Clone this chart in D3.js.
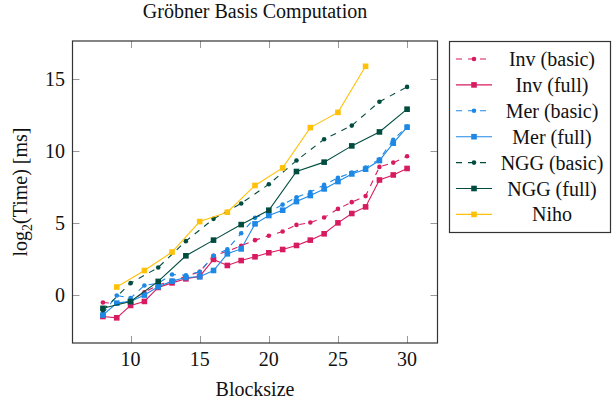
<!DOCTYPE html>
<html>
<head>
<meta charset="utf-8">
<script src="https://cdn.jsdelivr.net/npm/d3@7"></script>
<style>
  body { margin: 0; background: #fff; }
  svg text { font-family: "Liberation Serif", "DejaVu Serif", serif; fill: #111; }
</style>
</head>
<body>
<div class="chart"></div>
<script>
// blocksizes
var sizesAll = [8, 9, 10, 11, 12, 13, 14, 15, 16, 17, 18, 19, 20, 21, 22, 23, 24, 25, 26, 27, 28, 29, 30];
var sizesEven = [8, 10, 12, 14, 16, 18, 20, 22, 24, 26, 28, 30];
var sizesOdd = [9, 11, 13, 15, 17, 19, 21, 23, 25, 27];

// log2(time) values
var invBasic = [-0.51, -0.6, -0.4, 0.2, 0.7, 1.0, 1.3, 1.62, 2.73, 3.05, 3.42, 3.82, 4.12, 4.42, 4.88, 5.04, 5.39, 5.99, 6.46, 6.88, 8.91, 9.21, 9.65];
var invFull = [-1.49, -1.58, -0.72, -0.44, 0.53, 0.85, 1.13, 1.3, 2.48, 2.06, 2.4, 2.66, 2.94, 3.17, 3.45, 3.82, 4.26, 5.02, 5.67, 6.13, 8.0, 8.35, 8.8];
var merBasic = [-1.3, -0.03, -0.21, 0.67, 0.83, 1.43, 1.38, 1.62, 2.73, 3.19, 4.3, 5.37, 5.78, 6.29, 6.8, 7.17, 7.66, 8.15, 8.51, 8.86, 9.44, 10.8, 11.71];
var merFull = [-1.39, -0.56, -0.44, 0.0, 0.58, 0.97, 1.22, 1.27, 1.71, 2.87, 3.21, 4.95, 5.53, 5.9, 6.5, 6.92, 7.38, 7.89, 8.42, 8.75, 9.35, 10.56, 11.67];
var nggBasic = [-1.05, 0.83, 1.92, 3.75, 5.3, 6.37, 7.7, 9.35, 10.83, 11.78, 13.44, 14.47];
var nggFull = [-0.92, -0.45, 0.95, 2.73, 3.82, 4.9, 5.9, 8.59, 9.24, 10.37, 11.34, 12.92];
var niho = [0.56, 1.71, 2.99, 5.11, 5.76, 7.62, 8.84, 11.64, 12.7, 15.9];

var xTicks = [10, 15, 20, 25, 30];
var yTicks = [0, 5, 10, 15];

(function () {
    "use strict";

    var series = [
        { name: "Inv (basic)", x: sizesAll, y: invBasic, color: "#d81b60", dashed: true, mark: "circle" },
        { name: "Inv (full)", x: sizesAll, y: invFull, color: "#d81b60", dashed: false, mark: "square" },
        { name: "Mer (basic)", x: sizesAll, y: merBasic, color: "#1e88e5", dashed: true, mark: "circle" },
        { name: "Mer (full)", x: sizesAll, y: merFull, color: "#1e88e5", dashed: false, mark: "square" },
        { name: "NGG (basic)", x: sizesEven, y: nggBasic, color: "#004d40", dashed: true, mark: "circle" },
        { name: "NGG (full)", x: sizesEven, y: nggFull, color: "#004d40", dashed: false, mark: "square" },
        { name: "Niho", x: sizesOdd, y: niho, color: "#ffc107", dashed: false, mark: "square" }
    ];

    var W = 613, H = 407;
    // plot box
    var left = 72.5, mt = 41, w = 365, h = 302;

    var svg = d3.select(".chart")
                .append("svg")
                .attr("width", W)
                .attr("height", H);

    var x = d3.scaleLinear().domain([5.8, 32.2]).range([left, left + w]);
    var y = d3.scaleLinear().domain([-3.33, 17.66]).range([mt + h, mt]);

    // ticks (inside, mirrored)
    var tickLen = 7;
    var grid = svg.append("g").attr("stroke", "#999").attr("stroke-width", 1);
    xTicks.forEach(function (t) {
        var px = Math.round(x(t)) + 0.5;
        grid.append("line").attr("x1", px).attr("x2", px).attr("y1", mt + h).attr("y2", mt + h - tickLen);
        grid.append("line").attr("x1", px).attr("x2", px).attr("y1", mt).attr("y2", mt + tickLen);
    });
    yTicks.forEach(function (t) {
        var py = Math.round(y(t)) + 0.5;
        grid.append("line").attr("x1", left).attr("x2", left + tickLen).attr("y1", py).attr("y2", py);
        grid.append("line").attr("x1", left + w).attr("x2", left + w - tickLen).attr("y1", py).attr("y2", py);
    });

    // tick labels
    svg.selectAll(".xl")
        .data(xTicks)
        .enter()
        .append("text")
        .attr("x", function (d) { return x(d); })
        .attr("y", 366)
        .attr("text-anchor", "middle")
        .attr("font-size", 20)
        .text(function (d) { return d; });

    svg.selectAll(".yl")
        .data(yTicks)
        .enter()
        .append("text")
        .attr("x", 65)
        .attr("y", function (d) { return y(d) + 7; })
        .attr("text-anchor", "end")
        .attr("font-size", 20)
        .text(function (d) { return d; });

    function drawMarks(g, pts, s) {
        if (s.mark === "circle") {
            g.selectAll(null)
                .data(pts)
                .enter()
                .append("circle")
                .attr("cx", function (d) { return d[0]; })
                .attr("cy", function (d) { return d[1]; })
                .attr("r", 2.3)
                .attr("fill", s.color);
        } else {
            g.selectAll(null)
                .data(pts)
                .enter()
                .append("rect")
                .attr("x", function (d) { return d[0] - 2.8; })
                .attr("y", function (d) { return d[1] - 2.8; })
                .attr("width", 5.6)
                .attr("height", 5.6)
                .attr("fill", s.color);
        }
    }

    // the lines and marks
    var plot = svg.append("g");
    series.forEach(function (s) {
        var pts = s.x.map(function (v, i) { return [v, s.y[i]]; });
        var line = d3.line()
            .x(function (d) { return x(d[0]); })
            .y(function (d) { return y(d[1]); });
        plot.append("path")
            .datum(pts)
            .attr("d", line)
            .attr("fill", "none")
            .attr("stroke", s.color)
            .attr("stroke-width", 1.1)
            .attr("stroke-dasharray", s.dashed ? "6,6" : null);
        drawMarks(plot, pts.map(function (d) { return [x(d[0]), y(d[1])]; }), s);
    });

    // axis frame
    svg.append("rect")
        .attr("x", left)
        .attr("y", mt)
        .attr("width", w)
        .attr("height", h)
        .attr("fill", "none")
        .attr("stroke", "#333")
        .attr("stroke-width", 1.2);

    // title and labels
    svg.append("text")
        .attr("x", left + w / 2)
        .attr("y", 18)
        .attr("text-anchor", "middle")
        .attr("font-size", 20)
        .text("Gröbner Basis Computation");

    svg.append("text")
        .attr("x", left + w / 2)
        .attr("y", 396)
        .attr("text-anchor", "middle")
        .attr("font-size", 20)
        .text("Blocksize");

    var yl = svg.append("text")
        .attr("transform", "translate(27," + (mt + h / 2) + ") rotate(-90)")
        .attr("text-anchor", "middle")
        .attr("font-size", 20);
    yl.append("tspan").text("log");
    yl.append("tspan").attr("font-size", 14).attr("dy", 5).text("2");
    yl.append("tspan").attr("dy", -5).text("(Time) [ms]");

    // legend
    var lg = svg.append("g");
    lg.append("rect")
        .attr("x", 449.5)
        .attr("y", 41.5)
        .attr("width", 161)
        .attr("height", 191)
        .attr("fill", "#fff")
        .attr("stroke", "#333")
        .attr("stroke-width", 1.2);

    series.forEach(function (s, i) {
        var cy = 59 + i * 25.9;
        lg.append("line")
            .attr("x1", 456).attr("x2", 492)
            .attr("y1", cy).attr("y2", cy)
            .attr("stroke", s.color)
            .attr("stroke-width", 1.1)
            .attr("stroke-dasharray", s.dashed ? "6,6" : null);
        drawMarks(lg, [[474, cy]], s);
        lg.append("text")
            .attr("x", 552)
            .attr("y", cy + 7)
            .attr("text-anchor", "middle")
            .attr("font-size", 20)
            .text(s.name);
    });
})();
</script>
</body>
</html>
